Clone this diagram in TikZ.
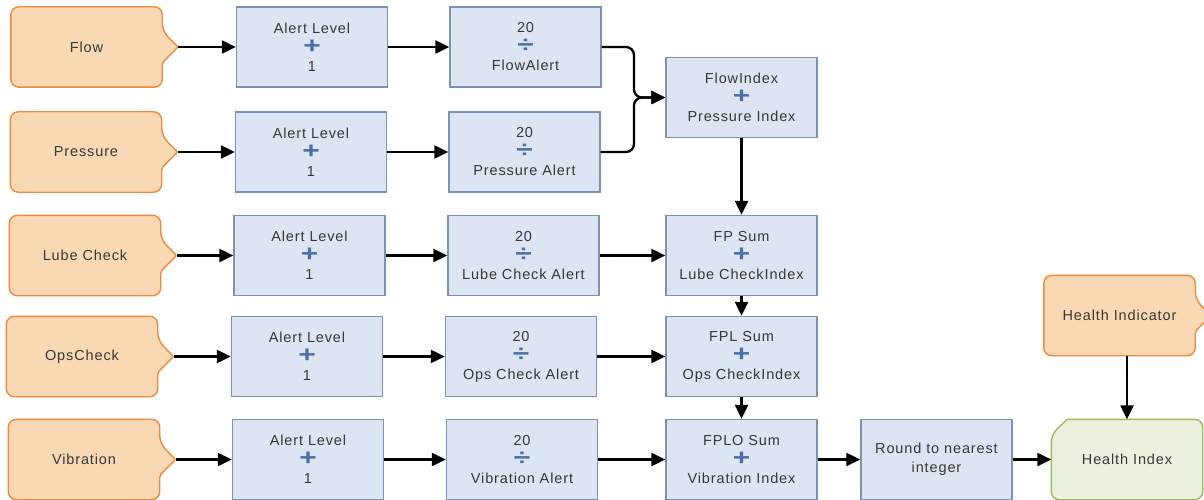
\documentclass[tikz,border=0pt]{standalone}
\usepackage{fontspec}
\setmainfont{Liberation Sans}[LetterSpace=6]
\usetikzlibrary{arrows.meta,calc,backgrounds}
\definecolor{srcfill}{HTML}{F9D9B3}
\definecolor{srcline}{HTML}{EE8A3C}
\definecolor{boxfill}{HTML}{DCE5F1}
\definecolor{boxline}{HTML}{7D93B5}
\definecolor{grnfill}{HTML}{EBF1DE}
\definecolor{grnline}{HTML}{9BBB59}
\definecolor{opblue}{HTML}{4A6EA8}
\definecolor{txt}{HTML}{383838}
\newcommand\opsym[1]{\raisebox{-1pt}[0pt][0pt]{\scalebox{1.3}[1]{\fontsize{23}{23}\selectfont\bfseries\color{opblue}#1}}}
\newcommand\srcshape[1]{%
  \begin{scope}[on background layer]
  \draw[draw=srcline, fill=srcfill, line width=1.4pt, rounded corners=8pt]
    (#1.south) -- (#1.south west) -- (#1.north west) -- (#1.north east)
    -- ($(#1.east)+(0,-16)$) [rounded corners=2pt] -- ($(#1.east)+(16,0)$)
    -- ($(#1.east)+(0,16)$) [rounded corners=8pt] -- (#1.south east) -- cycle;
  \end{scope}}
\begin{document}
\begin{tikzpicture}[x=1pt,y=-1pt,
  every node/.style={text=txt, font=\fontsize{14.5}{19}\selectfont},
  box/.style={draw=boxline, fill=boxfill, line width=1.4pt, minimum width=151pt,
    minimum height=80pt, inner sep=0pt, align=center},
  src/.style={minimum width=151pt, minimum height=80pt, inner sep=0pt, align=center},
  arr/.style={line width=2.3pt, -{Triangle[length=14pt,width=13pt]}},
]
\useasboundingbox (0,0) rectangle (1204,500);

% sources
\node[src] (flow) at (86.5,47) {Flow};
\node[src] (pres) at (86,152) {Pressure};
\node[src] (lube) at (85,255.5) {Lube Check};
\node[src] (ops)  at (82,356.5) {OpsCheck};
\node[src] (vib)  at (84,459.5) {Vibration};
\node[src] (hi)   at (1119.5,315.5) {Health Indicator};
\srcshape{flow}\srcshape{pres}\srcshape{lube}\srcshape{ops}\srcshape{vib}\srcshape{hi}

% alert level boxes
\node[box] (a1) at (312,47) {Alert Level\\\opsym{+}\\1};
\node[box] (a2) at (311,152) {Alert Level\\\opsym{+}\\1};
\node[box] (a3) at (309.5,255.5) {Alert Level\\\opsym{+}\\1};
\node[box] (a4) at (307,356.5) {Alert Level\\\opsym{+}\\1};
\node[box] (a5) at (308,459.5) {Alert Level\\\opsym{+}\\1};

% divide boxes
\node[box] (d1) at (525.5,47) {20\\\opsym{÷}\\FlowAlert};
\node[box] (d2) at (524.5,152) {20\\\opsym{÷}\\Pressure Alert};
\node[box] (d3) at (523.5,255.5) {20\\\opsym{÷}\\Lube Check Alert};
\node[box] (d4) at (521,356.5) {20\\\opsym{÷}\\Ops Check Alert};
\node[box] (d5) at (522,459.5) {20\\\opsym{÷}\\Vibration Alert};

% sums
\node[box] (s1) at (741.5,97.5) {FlowIndex\\\opsym{+}\\Pressure Index};
\node[box] (s2) at (741.5,255.5) {FP Sum\\\opsym{+}\\Lube CheckIndex};
\node[box] (s3) at (741.5,356.5) {FPL Sum\\\opsym{+}\\Ops CheckIndex};
\node[box] (s4) at (741.5,459.5) {FPLO Sum\\\opsym{+}\\Vibration Index};

\node[box] (rd) at (936.5,459.5) {Round to nearest\\integer};

% health index
\node[src] (hx) at (1127,459.5) {Health Index};
\begin{scope}[on background layer]
\draw[draw=grnline, fill=grnfill, line width=1.4pt, rounded corners=8pt]
  ($(hx.north west)+(16,0)$) -- (hx.north east) -- (hx.south east) -- (hx.south west)
  -- ($(hx.north west)+(0,15)$) [sharp corners] -- cycle;
\end{scope}

% connectors
\foreach \s/\a/\d in {flow/a1/d1, pres/a2/d2, lube/a3/d3, ops/a4/d4, vib/a5/d5}{
  \draw[arr] ($(\s.east)+(16,0)$) -- (\a.west);
  \draw[arr] (\a.east) -- (\d.west);
}
\coordinate (j1) at (634,97.5);
\draw[arr, rounded corners=8pt] (d1.east) -| (j1) -- (s1.west);
\draw[arr, rounded corners=8pt] (d2.east) -| (j1) -- (s1.west);
\draw[arr] (s1.south) -- (s2.north);
\draw[arr] (s2.south) -- (s3.north);
\draw[arr] (s3.south) -- (s4.north);
\draw[arr] (d3.east) -- (s2.west);
\draw[arr] (d4.east) -- (s3.west);
\draw[arr] (d5.east) -- (s4.west);
\draw[arr] (s4.east) -- (rd.west);
\draw[arr] (rd.east) -- (hx.west);
\draw[arr] (hi.south -| hx.north) -- (hx.north);
\end{tikzpicture}
\end{document}
